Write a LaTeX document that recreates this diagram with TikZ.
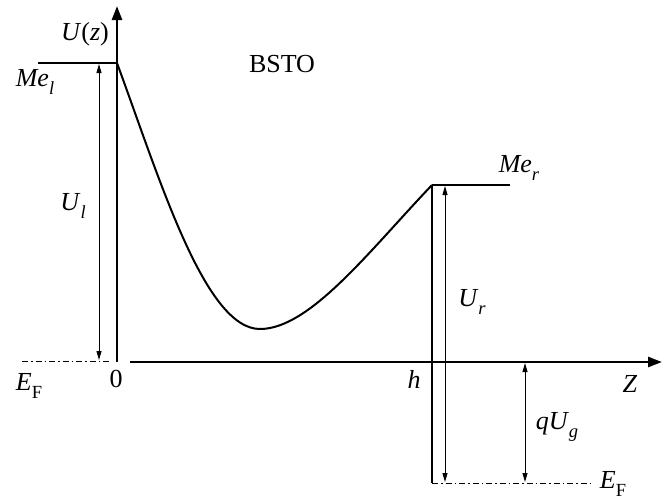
\documentclass[tikz,border=0pt]{standalone}
\usepackage{fontspec}
\setmainfont{Liberation Serif}
\usetikzlibrary{arrows.meta}
\newcommand{\iv}[1]{\textit{#1}}
\newcommand{\sbx}[1]{\raisebox{-0.28em}{\fontsize{18.5}{20}\selectfont #1}}
\begin{document}
\begin{tikzpicture}[x=1pt,y=-1pt,
  lbl/.style={font=\fontsize{26}{30}\selectfont, inner sep=0pt},
  axisline/.style={line width=2.6pt, -{Triangle[length=14pt,width=10pt]}},
  wall/.style={line width=2.6pt},
  curveline/.style={line width=2pt},
  level/.style={line width=1.4pt},
  dim/.style={line width=1pt, {Triangle[length=9pt,width=5pt]}-{Triangle[length=9pt,width=5pt]}},
  fermi/.style={line width=1pt, dash pattern=on 6pt off 3pt on 1.5pt off 3pt}]
\useasboundingbox (0,0) rectangle (664,499);
% coordinates
\coordinate (O) at (117,362);
\coordinate (Ytop) at (117,6);
\coordinate (Xs) at (130,362);
\coordinate (Xe) at (662,362);
\coordinate (Ltop) at (117,63);
\coordinate (Lend) at (38,63);
\coordinate (Min) at (260,329);
\coordinate (Rtop) at (432,185);
\coordinate (Rbot) at (432,483);
\coordinate (Rend) at (510,185);
\coordinate (EFl) at (22,361);
\coordinate (EFlb) at (112,361);
\coordinate (EFr) at (590,483);
\coordinate (Ula) at (99,64);
\coordinate (Ulb) at (99,360);
\coordinate (Ura) at (445,186);
\coordinate (Urb) at (445,482);
\coordinate (Uga) at (525,363);
\coordinate (Ugb) at (525,482);
% axes and walls
\draw[axisline] (O) -- (Ytop);
\draw[axisline] (Xs) -- (Xe);
\draw[wall] (Rtop) -- (Rbot);
% levels
\draw[level] (Lend) -- (Ltop);
\draw[level] (Rtop) -- (Rend);
% potential curve
\draw[curveline] (Ltop) .. controls (160,180) and (205,329) .. (Min)
                       .. controls (310,329) and (370,250) .. (Rtop);
% Fermi levels
\draw[fermi] (EFl) -- (EFlb);
\draw[fermi] (Rbot) -- (EFr);
% dimension arrows
\draw[dim] (Ulb) -- (Ula);
\draw[dim] (Urb) -- (Ura);
\draw[dim] (Ugb) -- (Uga);
% labels
\node[lbl] (uz) at (85,34) {\iv{U}(\iv{z})};
\node[lbl] (bsto) at (282,64) {BSTO};
\node[lbl] (mel) at (35,82) {\iv{Me}\sbx{\iv{l}}};
\node[lbl] (ul) at (73,206) {\iv{U}\sbx{\iv{l}}};
\node[lbl] (mer) at (519,168) {\iv{Me}\sbx{\iv{r}}};
\node[lbl] (ur) at (472,302) {\iv{U}\sbx{\iv{r}}};
\node[lbl] (efl) at (29,386) {\iv{E}\sbx{F}};
\node[lbl] (zero) at (116,379) {0};
\node[lbl] (h) at (414,379) {\iv{h}};
\node[lbl] (Z) at (630,384) {\iv{Z}};
\node[lbl] (qug) at (557,427) {\iv{qU}\sbx{\iv{g}}};
\node[lbl] (efr) at (613,484) {\iv{E}\sbx{F}};
\end{tikzpicture}
\end{document}
